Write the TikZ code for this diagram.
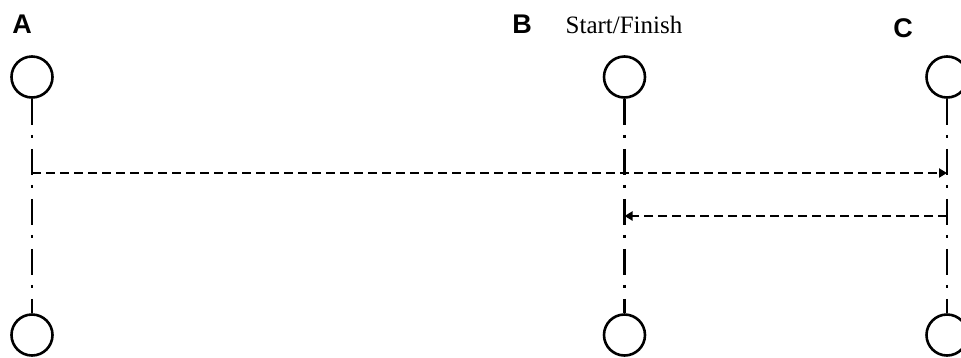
\documentclass[tikz,border=0pt]{standalone}
\usepackage{fontspec}
\setmainfont{Liberation Serif}
\setsansfont{Liberation Sans}
\usetikzlibrary{arrows.meta}
\begin{document}
\begin{tikzpicture}[x=1pt,y=-1pt,
  station/.style={draw,circle,line width=2.6pt,minimum size=41pt,inner sep=0pt},
  axis/.style={line width=2.6pt,dash pattern=on 26pt off 10pt on 3pt off 11pt},
  move/.style={line width=2.4pt,dash pattern=on 9pt off 5pt,-{Triangle[length=8pt,width=9pt]}},
  letter/.style={font=\sffamily\bfseries\fontsize{27}{30}\selectfont,inner sep=0pt},
  caption/.style={font=\fontsize{25}{30}\selectfont,inner sep=0pt}]
\useasboundingbox (0,0) rectangle (961,357);
\node[letter] (lA) at (22,24) {A};
\node[letter] (lB) at (522,24) {B};
\node[caption] (sf) at (624,25) {Start/Finish};
\node[letter] (lC) at (903,28) {C};
\node[station] (At) at (32,77) {};
\node[station] (Bt) at (624.5,77) {};
\node[station] (Ct) at (947,77) {};
\node[station] (Ab) at (32,335) {};
\node[station] (Bb) at (624.5,335) {};
\node[station] (Cb) at (947,335) {};
\draw[axis] (At.south) -- (Ab.north);
\draw[axis] (Bt.south) -- (Bb.north);
\draw[axis] (Ct.south) -- (Cb.north);
\coordinate (a1) at (32,173);
\coordinate (c1) at (947,173);
\coordinate (c2) at (947,216);
\coordinate (b2) at (624.5,216);
\draw[move] (a1) -- (c1);
\draw[move] (c2) -- (b2);
\end{tikzpicture}
\end{document}
